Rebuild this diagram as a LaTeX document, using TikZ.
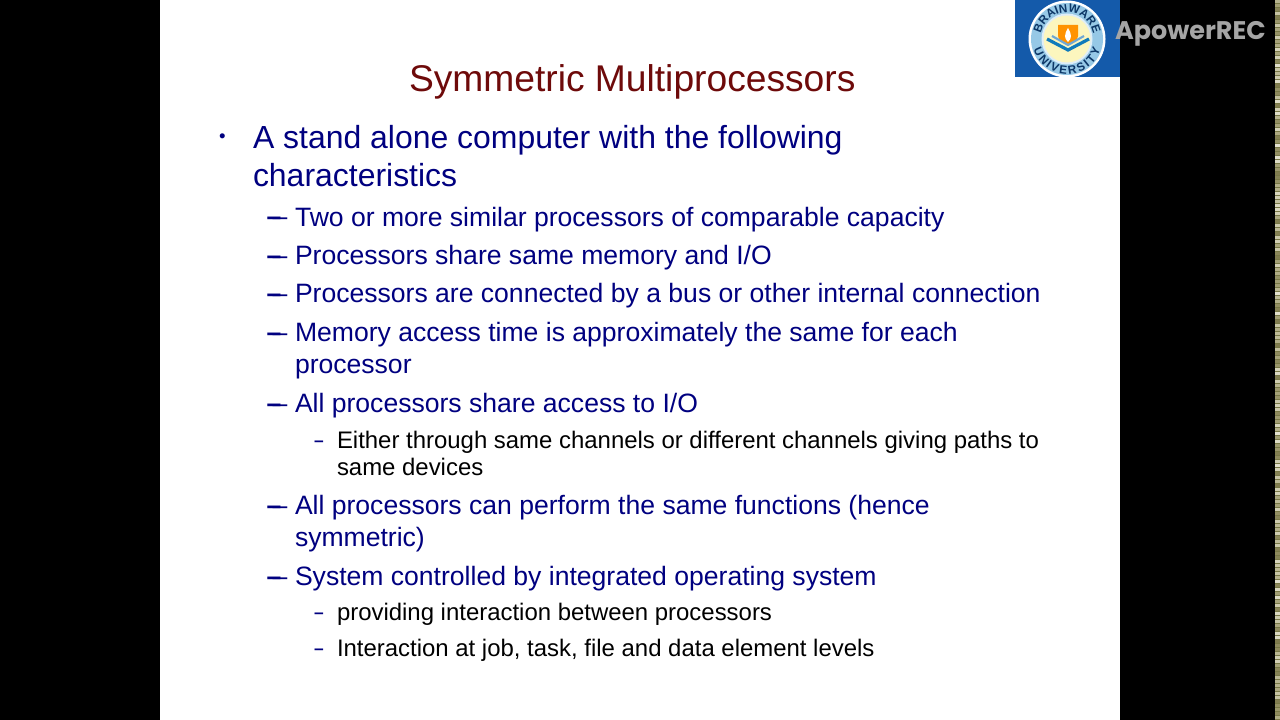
\documentclass[tikz,border=0pt]{standalone}
\usepackage{fontspec}
\setmainfont{Liberation Sans}
\newfontfamily\logofont{Poppins}
\usetikzlibrary{decorations.text}
\definecolor{navytext}{RGB}{0,0,128}
\definecolor{titlered}{RGB}{110,10,10}
\definecolor{logoblue}{RGB}{20,90,170}
\definecolor{ringblue}{RGB}{150,200,230}
\definecolor{logocream}{RGB}{252,246,190}
\definecolor{recgrey}{RGB}{165,165,165}
\definecolor{stripe}{RGB}{120,120,70}
\tikzset{
  x=0.75pt,y=-0.75pt,
  txt/.style={anchor=base west,inner sep=0pt,outer sep=0pt},
  titletxt/.style={txt,text=titlered,font=\fontsize{27.9pt}{30pt}\selectfont},
  lone/.style={txt,text=navytext,font=\fontsize{23.96pt}{28pt}\selectfont},
  ltwo/.style={txt,text=navytext,font=\fontsize{19.92pt}{24pt}\selectfont},
  lthree/.style={txt,text=black,font=\fontsize{17.95pt}{22pt}\selectfont},
  dthree/.style={txt,text=navytext,font=\bfseries\fontsize{13pt}{16pt}\selectfont},
  logotxt/.style 2 args={decorate,decoration={text along path,raise=0pt,
    text align={left indent=#1,right indent=#1,fit to path},text={#2}}},
}
\newcommand{\dashmark}[2]{%
  \node[ltwo,font=\bfseries\fontsize{19.92pt}{24pt}\selectfont] (d#1a) at (266.5,#2) {–};
  \node[ltwo] (d#1b) at (272.5,#2) {–};}
\begin{document}
\begin{tikzpicture}
\useasboundingbox (0,0) rectangle (1280,720);
\fill[black] (0,0) rectangle (1280,720);
\fill[white] (160,0) rectangle (1120,720);
% right edge strip
\fill[stripe] (1275,0) rectangle (1280,720);
\pgfmathsetseed{7}
\foreach \yy in {0,4,...,716}{
  \pgfmathsetmacro{\mixv}{int(random(20,95))}
  \fill[yellow!40!black!\mixv!white] (1275,\yy) rectangle (1280,\yy+3);
}
% logo
\fill[logoblue] (1015,0) rectangle (1120,77);
\fill[white] (1067,39) circle (38.5);
\fill[ringblue] (1067,39) circle (36);
\fill[white!70!ringblue] (1067,39) circle (25.5);
\fill[logocream] (1067,39) circle (23.5);
\fill[orange!85!yellow] (1058,25) -- (1078,25) -- (1078,36) .. controls (1078,41) and (1072,43) .. (1068,44) .. controls (1064,43) and (1058,41) .. (1058,36) -- cycle;
\fill[white] (1068,28) .. controls (1064,35) and (1064,38) .. (1068,42) .. controls (1072,38) and (1072,35) .. (1068,28) -- cycle;
\draw[logoblue!80!cyan,line width=2.4pt] (1047,39) -- (1068,50) -- (1089,39);
\draw[ringblue!70!logoblue,line width=1.6pt] (1052,36) -- (1068,45) -- (1084,36);
\path[logotxt={4pt}{|\fontsize{8.8pt}{9pt}\selectfont\bfseries\color{logoblue!60!black}|BRAINWARE}]
  (1040.5,39) arc[start angle=180,end angle=360,radius=26.5];
\path[logotxt={8pt}{|\fontsize{8.8pt}{9pt}\selectfont\bfseries\color{logoblue!60!black}|UNIVERSITY}]
  (1032,39) arc[start angle=180,end angle=0,radius=35];
% watermark
\node[txt,text=recgrey,font=\logofont\bfseries\fontsize{19.1pt}{24pt}\selectfont] (rec) at (1115,40) {ApowerREC};
% title
\node[titletxt] (title) at (409,91.5) {Symmetric Multiprocessors};
% level one
\node[txt,text=navytext,font=\fontsize{14pt}{16pt}\selectfont] (b1) at (219,143) {•};
\node[lone] (a1) at (253,149) {A stand alone computer with the following};
\node[lone] (a2) at (253,187) {characteristics};
% level two
\dashmark{1}{226}
\node[ltwo] (t1) at (295,227) {Two or more similar processors of comparable capacity};
\dashmark{2}{264}
\node[ltwo] (t2) at (295,264) {Processors share same memory and I/O};
\dashmark{3}{302}
\node[ltwo] (t3) at (295,302) {Processors are connected by a bus or other internal connection};
\dashmark{4}{341}
\node[ltwo] (t4) at (295,341) {Memory access time is approximately the same for each};
\node[ltwo] (t4b) at (295,373) {processor};
\dashmark{5}{412}
\node[ltwo] (t5) at (295,412) {All processors share access to I/O};
\node[dthree] (d31) at (314,446) {–};
\node[lthree] (u1) at (337,448) {Either through same channels or different channels giving paths to};
\node[lthree] (u1b) at (337,475) {same devices};
\dashmark{6}{514}
\node[ltwo] (t6) at (295,514) {All processors can perform the same functions (hence};
\node[ltwo] (t6b) at (295,546) {symmetric)};
\dashmark{7}{585}
\node[ltwo] (t7) at (295,585) {System controlled by integrated operating system};
\node[dthree] (d32) at (314,618) {–};
\node[lthree] (u2) at (337,620) {providing interaction between processors};
\node[dthree] (d33) at (314,654) {–};
\node[lthree] (u3) at (337,656) {Interaction at job, task, file and data element levels};
\end{tikzpicture}
\end{document}
